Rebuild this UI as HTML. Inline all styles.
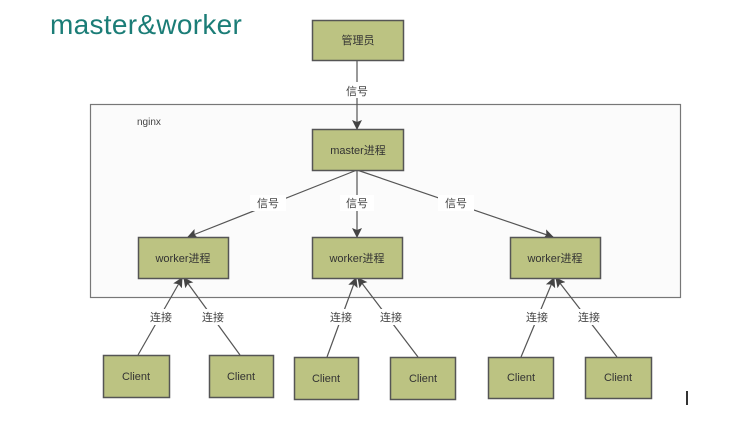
<!DOCTYPE html>
<html><head><meta charset="utf-8"><style>
html,body{margin:0;padding:0;background:#fff;width:732px;height:430px;overflow:hidden}
svg text{font-family:"Liberation Sans","Noto Sans CJK SC",sans-serif}
</style></head><body>
<svg width="732" height="430" viewBox="0 0 732 430" xmlns="http://www.w3.org/2000/svg">
<defs><marker id="a" markerWidth="10" markerHeight="10" refX="9" refY="5" orient="auto" markerUnits="userSpaceOnUse"><path d="M0,0 L10,5 L0,10 L2,5 z" fill="#444"/></marker></defs>
<text x="50" y="34" font-size="28" fill="#1b7d77" letter-spacing="0.3">master&amp;worker</text>
<rect x="90.5" y="104.5" width="590" height="193" fill="#fbfbfb" stroke="#777" stroke-width="1.2"/>
<text x="137" y="125" font-size="10" fill="#444">nginx</text>
<g stroke="#555" stroke-width="1.2" fill="none">
<line x1="357" y1="60" x2="357" y2="129" marker-end="url(#a)"/>
<line x1="357" y1="170" x2="188" y2="237" marker-end="url(#a)"/>
<line x1="357" y1="170" x2="357" y2="237" marker-end="url(#a)"/>
<line x1="357" y1="170" x2="553" y2="237" marker-end="url(#a)"/>
<line x1="138" y1="355" x2="182" y2="278" marker-end="url(#a)"/>
<line x1="240" y1="355" x2="184" y2="278" marker-end="url(#a)"/>
<line x1="327" y1="357" x2="356" y2="278" marker-end="url(#a)"/>
<line x1="418" y1="357" x2="358" y2="278" marker-end="url(#a)"/>
<line x1="521" y1="357" x2="554" y2="278" marker-end="url(#a)"/>
<line x1="617" y1="357" x2="556" y2="278" marker-end="url(#a)"/>
</g>
<g fill="#fff">
<rect x="337" y="82" width="40" height="16"/>
<rect x="250" y="195" width="36" height="16"/><rect x="340" y="195" width="34" height="16"/><rect x="438" y="195" width="36" height="16"/>
<rect x="144" y="309" width="34" height="16"/><rect x="196" y="309" width="34" height="16"/>
<rect x="324" y="309" width="34" height="16"/><rect x="374" y="309" width="34" height="16"/>
<rect x="520" y="309" width="34" height="16"/><rect x="572" y="309" width="34" height="16"/>
</g>
<g font-size="11" fill="#444" text-anchor="middle">
<text x="357" y="95">信号</text>
<text x="268" y="207">信号</text><text x="357" y="207">信号</text><text x="456" y="207">信号</text>
<text x="161" y="321">连接</text><text x="213" y="321">连接</text>
<text x="341" y="321">连接</text><text x="391" y="321">连接</text>
<text x="537" y="321">连接</text><text x="589" y="321">连接</text>
</g>
<g fill="#bcc382" stroke="#555" stroke-width="1.5">
<rect x="312.5" y="20.5" width="91" height="40"/>
<rect x="312.5" y="129.5" width="91" height="41"/>
<rect x="138.5" y="237.5" width="90" height="41"/>
<rect x="312.5" y="237.5" width="90" height="41"/>
<rect x="510.5" y="237.5" width="90" height="41"/>
<rect x="103.5" y="355.5" width="66" height="42"/>
<rect x="209.5" y="355.5" width="64" height="42"/>
<rect x="294.5" y="357.5" width="64" height="42"/>
<rect x="390.5" y="357.5" width="65" height="42"/>
<rect x="488.5" y="357.5" width="65" height="41"/>
<rect x="585.5" y="357.5" width="66" height="41"/>
</g>
<g font-size="11" fill="#333" text-anchor="middle">
<text x="358" y="44">管理员</text>
<text x="358" y="154">master进程</text>
<text x="183" y="262">worker进程</text>
<text x="357" y="262">worker进程</text>
<text x="555" y="262">worker进程</text>
<text x="136" y="380">Client</text>
<text x="241" y="380">Client</text>
<text x="326" y="382">Client</text>
<text x="423" y="382">Client</text>
<text x="521" y="381">Client</text>
<text x="618" y="381">Client</text>
</g>
<rect x="686" y="391" width="2" height="14" fill="#333"/>
</svg>
</body></html>
